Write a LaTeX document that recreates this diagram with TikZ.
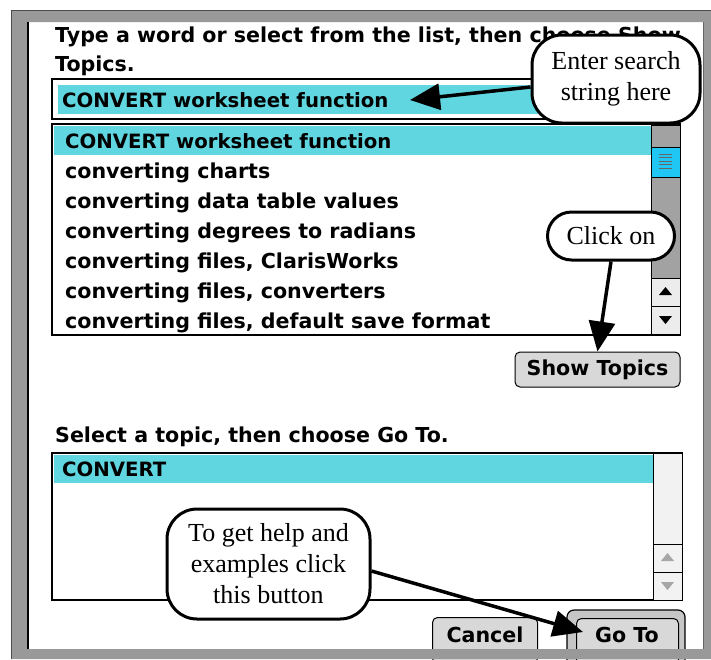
\documentclass[tikz,border=0pt]{standalone}
\usepackage{fontspec}
\usetikzlibrary{arrows.meta,positioning}
\newfontfamily\uifont{DejaVu Sans}
\newfontfamily\notefont{Liberation Serif}
\definecolor{hilite}{RGB}{96,214,224}
\definecolor{framegray}{RGB}{153,153,153}
\definecolor{trackgray}{RGB}{162,162,162}
\definecolor{thumbblue}{RGB}{32,198,244}
\definecolor{btngray}{RGB}{216,216,216}

\tikzset{
  uitext/.style={anchor=base west, inner sep=0pt, font=\uifont\bfseries\fontsize{20.6}{24}\selectfont},
  hitext/.style={uitext, font=\uifont\bfseries\fontsize{19.7}{24}\selectfont},
  callout/.style={draw, fill=white, line width=3pt, rounded corners=30pt, align=center,
    inner sep=0pt, font=\notefont\fontsize{26}{31}\selectfont},
  pointer/.style={line width=3.5pt, -{Triangle[length=30pt,width=26pt]}},
  button/.style={draw, fill=btngray, rounded corners=5pt, line width=1pt, inner sep=0pt,
    font=\uifont\bfseries\fontsize{20.6}{24}\selectfont},
  arrowbtn/.style={draw, fill=gray!15, line width=0.8pt},
}

\begin{document}
\begin{tikzpicture}[x=1pt, y=-1pt]
\useasboundingbox (0,0) rectangle (711,659);
\fill[white] (0,0) rectangle (711,659);

% top text and search field
\node[uitext] (intro) at (55,42) {Type a word or select from the list, then choose Show};
\node[uitext] (intro2) at (55,71) {Topics.};
\draw[line width=1.2pt] (52,79) rectangle (680,119);
\fill[hilite] (58,85) rectangle (675,114);
\node[hitext] (field) at (62,107) {CONVERT worksheet function};
\coordinate (fieldtip) at (410,100);

% first list
\draw[line width=1.2pt] (52,124) rectangle (680,335);
\fill[hilite] (54,126) rectangle (651,155);
\node[hitext] (entry1) at (65,148) {CONVERT worksheet function};
\foreach \entry [count=\k from 2] in {converting charts,
  converting data table values, converting degrees to radians,
  {converting files, ClarisWorks}, {converting files, converters},
  {converting files, default save format}}
  \node[uitext] (entry\k) at (65,{118+30*\k}) {\entry};
\draw[fill=trackgray, line width=1pt] (651,125) rectangle (680,334);
\draw[fill=thumbblue, line width=1pt] (651,147) rectangle (680,177);
\foreach \j in {0,...,4}
  \draw[black!60, line width=0.7pt] (659,{154+3.5*\j}) -- (672,{154+3.5*\j});
\draw[arrowbtn] (651,278) rectangle (680,306);
\draw[arrowbtn] (651,306) rectangle (680,334);
\fill (665.5,287) -- (672,295) -- (659,295) -- cycle;
\fill (665.5,324) -- (672,316) -- (659,316) -- cycle;

\node[button, minimum width=165pt, minimum height=35pt] (showbtn) at (597.5,369.5) {Show Topics};

% second list
\node[uitext] (select) at (55,442) {Select a topic, then choose Go To.};
\draw[line width=1.2pt] (52,453) rectangle (682,600);
\fill[hilite] (54,455) rectangle (653,483);
\node[hitext] (topic) at (62,476) {CONVERT};
\draw[fill=gray!10, line width=1pt] (653,453) rectangle (682,600);
\draw[fill=gray!10, line width=0.8pt] (653,544) rectangle (682,572);
\draw[fill=gray!10, line width=0.8pt] (653,572) rectangle (682,600);
\fill[gray!70] (667.5,553) -- (674,561) -- (661,561) -- cycle;
\fill[gray!70] (667.5,590) -- (674,582) -- (661,582) -- cycle;

% buttons at the bottom
\node[button, minimum width=105pt, minimum height=46pt, anchor=north west] (cancelbtn) at (432,617) {};
\node[uitext, anchor=base] at (485,642) {Cancel};
\draw[line width=1.2pt, rounded corners=7pt, fill=gray!45] (567,610) rectangle (685,670);
\node[button, minimum width=102pt, minimum height=46pt, anchor=north west] (gotobtn) at (576,618) {};
\node[uitext, anchor=base] at (627,642) {Go To};
\coordinate (gototip) at (583,632);

% window frame
\fill[framegray, even odd rule] (11,10) rectangle (711,659) (27,22) rectangle (703,649);
\draw[black!70, line width=0.8pt] (11,659) -- (11,10) -- (711,10);
\draw[line width=2pt] (28,649) -- (28,22);
\draw[black!60, line width=1pt] (703,649) -- (703,22);

% notes
\node[callout, minimum width=168pt, minimum height=88pt] (searchnote) at (616,79) {Enter search\\string here};
\node[callout, minimum width=127pt, minimum height=48pt, rounded corners=24pt] (clicknote) at (611,236) {Click on};
\node[callout, minimum width=203pt, minimum height=110pt] (helpnote) at (268.5,564) {To get help and\\examples click\\this button};
\draw[pointer] ([yshift=-8pt]searchnote.west) -- (fieldtip);
\draw[pointer] (clicknote.south) -- (showbtn.north);
\draw[pointer] ([yshift=-7pt]helpnote.east) -- (gototip);
\end{tikzpicture}
\end{document}
